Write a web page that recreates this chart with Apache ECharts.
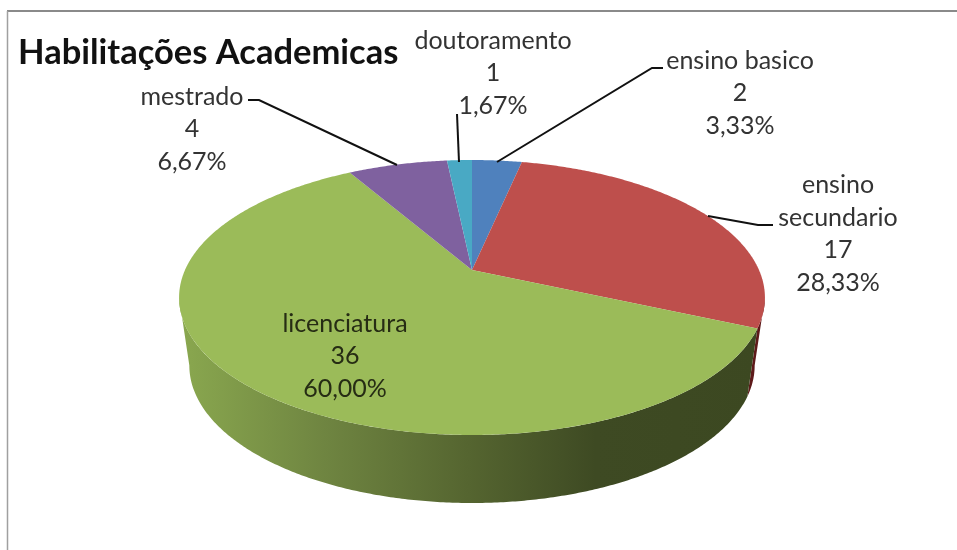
<!DOCTYPE html>
<html>
<head>
<meta charset="utf-8">
<style>
  html, body { margin: 0; padding: 0; background: #fff; }
  #chart { width: 957px; height: 550px; }
</style>
<script src="https://cdn.jsdelivr.net/npm/echarts@6/dist/echarts.min.js"></script>
</head>
<body>
<div id="chart"></div>
<script>
// chart values
const categories = ["ensino basico", "ensino\nsecundario", "licenciatura", "mestrado", "doutoramento"];
const counts = [2, 17, 36, 4, 1];
const percentLabels = ["3,33%", "28,33%", "60,00%", "6,67%", "1,67%"];

// styles per slice
const topColors = ["#4f81bd", "#be4f4c", "#9bbb59", "#7f619f", "#49a9c4"];
const wallColors = ["#2c4a6e", "#5e1a1a", null, "#4a3a60", "#2a6273"];

// label anchors (centre of the text block) and leader lines
const labelAnchors = [[740, 93], [838, 234], [345, 356], [192, 129], [493, 73]];
const leaderLines = [
  [[663, 68], [652, 68], [497, 162]],
  [[773, 225], [758, 225], [708, 216]],
  null,
  [[248, 100], [259, 100], [397, 165]],
  [[457, 114], [459, 162]]
];

// perspective disc: apex of the pie and how the rim is projected
const cx = 472, cy = 270;
const radX = 287, radY = 132, persp = 0.2;
const depth = 68, lowerScale = 0.965;
// the side is only seen between the two widest points of the rim
const wallFrom = 101.5, wallTo = 258.5;

const total = counts.reduce((a, b) => a + b, 0);
const startAngles = [];
let running = 0;
counts.forEach(c => {
  startAngles.push(running);
  running += c / total * 360;
});

// angle in degrees, clockwise from the top of the pie
function rim(deg, lower) {
  const t = deg * Math.PI / 180;
  const Y = -Math.cos(t);
  const d = 1 - persp * Y;
  const x = radX * Math.sin(t) / d;
  const y = radY * Y / d;
  return lower ? [cx + x * lowerScale, cy + y + depth] : [cx + x, cy + y];
}

function arc(from, to, lower) {
  const pts = [];
  const n = Math.ceil(to - from) * 2;
  for (let i = 0; i <= n; i++) {
    pts.push(rim(from + (to - from) * i / n, lower));
  }
  return pts;
}

function range(i) {
  return [startAngles[i], startAngles[i] + counts[i] / total * 360];
}

const wallGradient = {
  type: "linear", x: 0, y: 0, x2: 1, y2: 0,
  colorStops: [
    { offset: 0, color: "#8aa84f" },
    { offset: 0.25, color: "#6f8541" },
    { offset: 0.5, color: "#556530" },
    { offset: 0.72, color: "#3e4a23" },
    { offset: 1, color: "#3c4821" }
  ]
};

const option = {
  animation: false,
  backgroundColor: "#fff",
  title: {
    text: "Habilitações Academicas",
    left: 13,
    top: 30,
    textStyle: { fontFamily: "Lato", fontWeight: "bold", fontSize: 34.5, color: "#111" }
  },
  graphic: [
    { type: "line", silent: true, shape: { x1: 7, y1: 11, x2: 957, y2: 11 }, style: { stroke: "#8a8a8a", lineWidth: 2 } },
    { type: "line", silent: true, shape: { x1: 7.5, y1: 11, x2: 7.5, y2: 550 }, style: { stroke: "#a0a0a0", lineWidth: 1.5 } }
  ],
  series: [
    {
      // side of the disc
      type: "custom",
      coordinateSystem: "none",
      silent: true,
      data: counts,
      renderItem(params) {
        const i = params.dataIndex;
        const [s, e] = range(i);
        const a = Math.max(s, wallFrom), b = Math.min(e, wallTo);
        if (b <= a) return null;
        const points = arc(a, b, false).concat(arc(a, b, true).reverse());
        return {
          type: "polygon",
          shape: { points },
          style: { fill: wallColors[i] || wallGradient }
        };
      }
    },
    {
      type: "custom",
      coordinateSystem: "none",
      silent: true,
      data: counts,
      renderItem(params) {
        const i = params.dataIndex;
        const [a, b] = range(i);
        return {
          type: "polygon",
          shape: { points: [[cx, cy]].concat(arc(a, b, false)) },
          style: { fill: topColors[i] }
        };
      }
    },
    {
      type: "custom",
      coordinateSystem: "none",
      silent: true,
      data: counts,
      renderItem(params) {
        const i = params.dataIndex;
        const children = [{
          type: "text",
          style: {
            text: categories[i] + "\n" + counts[i] + "\n" + percentLabels[i],
            x: labelAnchors[i][0],
            y: labelAnchors[i][1],
            align: "center",
            verticalAlign: "middle",
            lineHeight: 32.5,
            fontFamily: "Lato",
            fontSize: 25,
            fill: i === 2 ? "#262c14" : "#333"
          }
        }];
        if (leaderLines[i]) {
          children.push({
            type: "polyline",
            shape: { points: leaderLines[i] },
            style: { stroke: "#111", lineWidth: 2, fill: null }
          });
        }
        return { type: "group", children };
      }
    }
  ]
};

const chart = echarts.init(document.getElementById("chart"), null, { renderer: "canvas" });
chart.setOption(option);
</script>
</body>
</html>
